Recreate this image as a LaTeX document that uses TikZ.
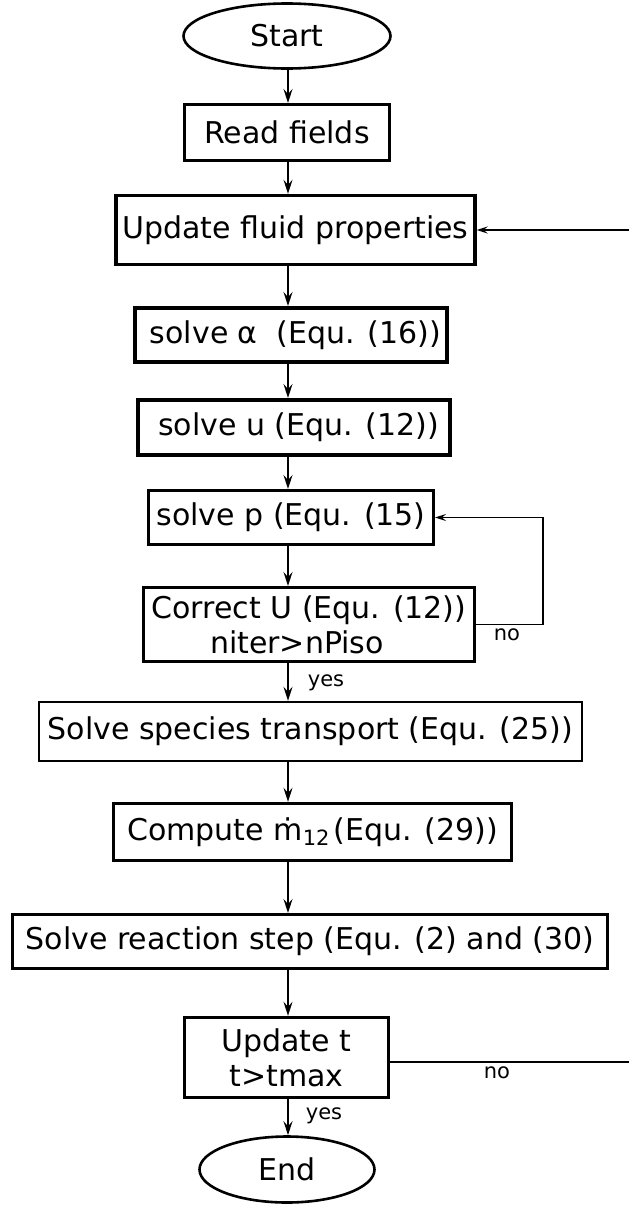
\documentclass[tikz,border=0pt]{standalone}
\usepackage{fontspec}
\setmainfont{DejaVu Sans}
\usetikzlibrary{shapes.geometric, arrows.meta, calc}
\begin{document}
\begin{tikzpicture}[x=1pt, y=-1pt,
  every node/.style={font=\fontsize{30}{35}\selectfont, inner sep=0pt},
  box/.style={draw, rectangle, line width=3pt, align=center},
  term/.style={draw, ellipse, line width=2.6pt},
  flow/.style={line width=1.8pt, -{Stealth[length=14pt,width=9pt,inset=5pt]}},
  back/.style={line width=1.6pt, -{Stealth[length=11pt,width=7pt,inset=4pt]}},
  tag/.style={font=\fontsize{21}{24}\selectfont}
]
\useasboundingbox (0,0) rectangle (629,1205);
\clip (0,0) rectangle (629,1205);

% main column of steps
\node[term, minimum width=207pt, minimum height=65pt] (start) at (287,36) {Start};
\node[box, minimum width=205pt, minimum height=56pt] (read) at (287,132.5) {Read fields};
\node[box, line width=3.4pt, minimum width=359pt, minimum height=69pt] (fluid) at (295.5,230) {Update fluid properties};
\node[box, line width=4pt, minimum width=312pt, minimum height=54pt] (alpha) at (291,335) {\hspace*{9pt}solve α\ \ (Equ. (16))};
\node[box, line width=4pt, minimum width=312pt, minimum height=55pt] (velo) at (294,427.5) {\hspace*{9pt}solve u (Equ. (12))};
\node[box, minimum width=285pt, minimum height=54pt] (pres) at (291,517.5) {solve p (Equ. (15)};
\node[box, minimum width=331pt, minimum height=74pt] (corr) at (309,624.5) {Correct U (Equ. (12))\\niter>nPiso\hspace*{24pt}};
\node[box, line width=2.4pt, minimum width=543pt, minimum height=59pt] (species) at (310.5,731.5) {Solve species transport (Equ. (25))};
\node[box, line width=3.4pt, minimum width=398pt, minimum height=57pt] (mdot) at (312.5,832) {Compute ṁ\raisebox{-5pt}{\fontsize{21}{24}\selectfont 12}\hspace{4pt}(Equ. (29))};
\node[box, minimum width=595pt, minimum height=54pt] (react) at (310,941.5) {Solve reaction step (Equ. (2) and (30)};
\node[box, line width=3.4pt, minimum width=204pt, minimum height=80pt] (updt) at (286.5,1057.5) {Update t\\t>tmax};
\node[term, minimum width=175pt, minimum height=66pt] (end) at (287,1169.5) {End};

% downward connectors along one column
\coordinate (col) at (288,0);
\foreach \a/\b in {start/read, read/fluid, fluid/alpha, alpha/velo, velo/pres,
                   pres/corr, corr/species, species/mdot, mdot/react, react/updt, updt/end}
  \draw[flow] (col |- \a.south) -- (col |- \b.north);

% branch labels
\node[tag] (yes1) at (326,683) {yes};
\node[tag] (no1) at (507,635) {no};
\node[tag] (yes2) at (324,1116) {yes};
\node[tag] (no2) at (497,1073) {no};

% PISO loop and time loop
\draw[back] (corr.east) -- ++(67,0) |- (pres.east);
\draw[back] ([yshift=-4.5pt]updt.east) -- ++(250,0) |- (fluid.east);
\end{tikzpicture}
\end{document}
